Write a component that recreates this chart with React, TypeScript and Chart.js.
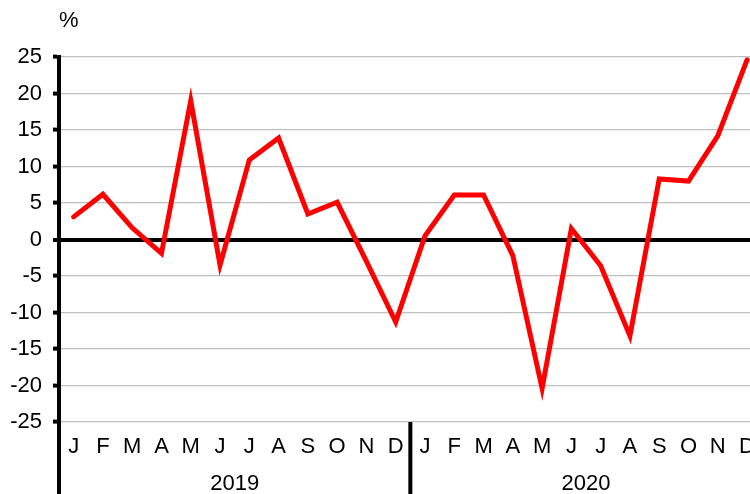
import React, { useEffect, useRef } from "react";
import { Chart, registerables } from "chart.js";

Chart.register(...registerables);

const months = ["J", "F", "M", "A", "M", "J", "J", "A", "S", "O", "N", "D", "J", "F", "M", "A", "M", "J", "J", "A", "S", "O", "N", "D"];
const years = ["2019", "2020"];
const values2019 = [3.1, 6.2, 1.6, -1.9, 19.0, -3.5, 10.9, 13.9, 3.5, 5.1, -3.0, -11.3];
const values2020 = [0.5, 6.1, 6.1, -2.2, -20.4, 1.5, -3.6, -13.2, 8.3, 8.0, 14.2, 24.6];
const unitLabel = "%";

const FONT = "'Liberation Sans', Arial, sans-serif";
const FS = 22;

export default function App() {
  const ref = useRef<HTMLCanvasElement | null>(null);

  useEffect(() => {
    const canvas = ref.current;
    if (!canvas) return;
    document.body.style.margin = "0";

    const extras = {
      id: "extras",
      afterDraw(chart: any) {
        const { ctx, chartArea, scales } = chart;
        const x = scales.x;
        ctx.save();
        ctx.strokeStyle = "#000";
        ctx.lineWidth = 4;
        ctx.beginPath();
        ctx.moveTo(chartArea.left, chartArea.bottom);
        ctx.lineTo(chartArea.left, chart.height);
        const divX = (x.getPixelForValue(11) + x.getPixelForValue(12)) / 2;
        ctx.moveTo(divX, chartArea.bottom);
        ctx.lineTo(divX, chart.height);
        ctx.stroke();
        ctx.fillStyle = "#000";
        ctx.font = `${FS}px ${FONT}`;
        ctx.textAlign = "left";
        ctx.textBaseline = "middle";
        ctx.fillText(unitLabel, chartArea.left, 21);
        ctx.restore();
      },
    };

    const chart = new Chart(canvas, {
      type: "line",
      data: {
        labels: months,
        datasets: [
          {
            data: [...values2019, ...values2020],
            borderColor: "#ff0000",
            borderWidth: 5,
            pointRadius: 0,
            tension: 0,
            borderJoinStyle: "miter",
            borderCapStyle: "round",
            fill: false,
          },
        ],
      },
      options: {
        animation: false,
        responsive: false,
        layout: { padding: { top: 57, left: 0, right: 0, bottom: 0 } },
        plugins: { legend: { display: false }, tooltip: { enabled: false } },
        scales: {
          x: {
            type: "category",
            position: "bottom",
            weight: 0,
            offset: true,
            grid: { display: false, drawTicks: false },
            border: { display: false },
            ticks: {
              color: "#000",
              font: { family: FONT, size: FS },
              padding: 12,
              maxRotation: 0,
              autoSkip: false,
            },
            afterFit: (s: any) => {
              s.height = 48;
            },
          },
          x2: {
            type: "category",
            position: "bottom",
            weight: 1,
            labels: years,
            offset: true,
            grid: { display: false, drawTicks: false },
            border: { display: false },
            ticks: {
              color: "#000",
              font: { family: FONT, size: FS },
              padding: 1,
              maxRotation: 0,
            },
            afterFit: (s: any) => {
              s.height = 24;
            },
          },
          y: {
            min: -25,
            max: 25,
            ticks: {
              stepSize: 5,
              color: "#000",
              font: { family: FONT, size: FS },
              padding: 11,
            },
            grid: {
              color: (c: any) => (c.tick && c.tick.value === 0 ? "#000" : "#c0c0c0"),
              lineWidth: (c: any) => (c.tick && c.tick.value === 0 ? 4 : 1.2),
              tickColor: "#000",
              tickWidth: 4,
              tickLength: 6,
              drawTicks: true,
            },
            border: { display: true, color: "#000", width: 4 },
            afterFit: (s: any) => {
              s.width = 59;
            },
          },
        },
      },
      plugins: [extras],
    });

    return () => chart.destroy();
  }, []);

  return (
    <div style={{ position: "absolute", left: 0, top: 0, width: 750, height: 494, overflow: "hidden", background: "#fff" }}>
      <canvas ref={ref} width={767} height={494} style={{ display: "block", width: 767, height: 494 }} />
    </div>
  );
}
